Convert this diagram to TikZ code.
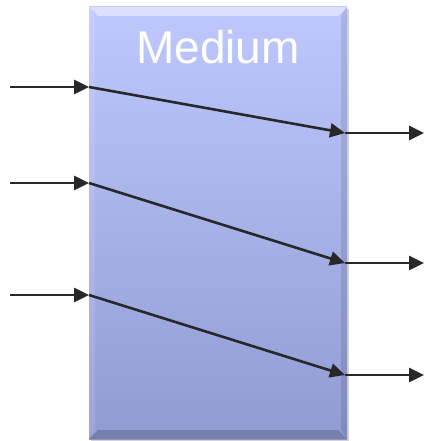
\documentclass[tikz,border=0pt]{standalone}
\usepackage{fontspec}
\setmainfont{Liberation Sans}
\usetikzlibrary{arrows.meta,shadows,calc}
\definecolor{mediumtop}{RGB}{190,200,255}
\definecolor{mediumbot}{RGB}{143,155,210}
\definecolor{raycol}{RGB}{40,40,40}
\begin{document}
\begin{tikzpicture}[x=1pt,y=-1pt]
        \tikzstyle{ray} = [draw=raycol, line width=2.6pt, -{Triangle[length=15pt,width=14pt]}]
        \useasboundingbox (0,0) rectangle (425,441);
        % the medium block
        \node[draw=none, top color=mediumtop, bottom color=mediumbot, minimum width=258pt, minimum height=432pt,
              drop shadow={shadow xshift=2pt, shadow yshift=-2pt, opacity=0.35}] (medium) at (218,223) {};
        \fill[white, opacity=0.45] (medium.north west) -- (medium.north east) -- ++(-9,9) -- ($(medium.north west)+(9,9)$) -- cycle;
        \fill[black, opacity=0.18] (medium.south west) -- (medium.south east) -- ++(-9,-9) -- ($(medium.south west)+(9,-9)$) -- cycle;
        \fill[black, opacity=0.10] (medium.north east) -- (medium.south east) -- ++(-6,-9) -- ($(medium.north east)+(-6,9)$) -- cycle;
        \fill[white, opacity=0.12] (medium.north west) -- (medium.south west) -- ++(6,-9) -- ($(medium.north west)+(6,9)$) -- cycle;
        \node[text=white, font=\fontsize{46}{50}\selectfont, inner sep=0pt] (title) at (218,47) {Medium};

        % rays through the medium
        \foreach \yin/\yout [count=\i] in {87/133, 183/263, 295/375} {
            \coordinate (src\i) at (10,\yin);
            \coordinate (in\i) at (89,\yin);
            \coordinate (out\i) at (345,\yout);
            \coordinate (dst\i) at (424,\yout);
            \path[ray] (src\i) -- (in\i);
            \path[ray] (in\i) -- (out\i);
            \path[ray] (out\i) -- (dst\i);
        }
\end{tikzpicture}
\end{document}
